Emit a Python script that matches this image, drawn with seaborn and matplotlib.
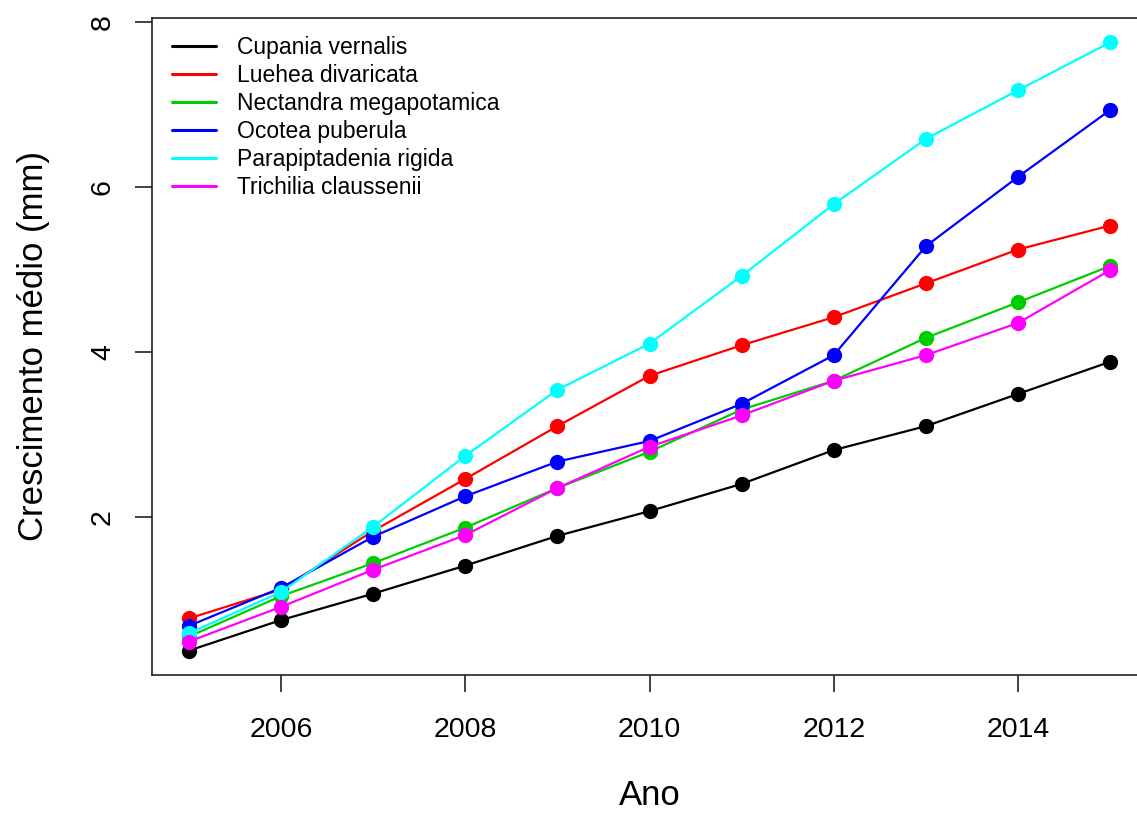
import pandas as pd
import matplotlib.pyplot as plt
import seaborn as sns
from matplotlib.lines import Line2D

years = [2005, 2006, 2007, 2008, 2009, 2010, 2011, 2012, 2013, 2014, 2015]
especies = ['Cupania vernalis', 'Luehea divaricata', 'Nectandra megapotamica',
            'Ocotea puberula', 'Parapiptadenia rigida', 'Trichilia claussenii']
cupania = [0.38, 0.75, 1.07, 1.41, 1.77, 2.07, 2.40, 2.81, 3.10, 3.49, 3.88]
luehea = [0.77, 1.12, 1.83, 2.46, 3.10, 3.71, 4.08, 4.42, 4.83, 5.24, 5.53]
nectandra = [0.55, 1.04, 1.44, 1.87, 2.35, 2.79, 3.30, 3.65, 4.17, 4.60, 5.04]
ocotea = [0.68, 1.14, 1.76, 2.25, 2.67, 2.92, 3.37, 3.96, 5.28, 6.12, 6.93]
parapiptadenia = [0.59, 1.09, 1.88, 2.74, 3.54, 4.10, 4.92, 5.79, 6.58, 7.17, 7.75]
trichilia = [0.49, 0.91, 1.36, 1.78, 2.35, 2.85, 3.23, 3.65, 3.96, 4.35, 4.99]
cores = ['#000000', '#FF0000', '#00CD00', '#0000FF', '#00FFFF', '#FF00FF']

df = pd.DataFrame({'Ano': years, especies[0]: cupania, especies[1]: luehea,
                   especies[2]: nectandra, especies[3]: ocotea,
                   especies[4]: parapiptadenia, especies[5]: trichilia})
df_long = df.melt(id_vars='Ano', var_name='Especie', value_name='Crescimento')

sns.set_style('white')
plt.rcParams['font.family'] = ['Liberation Sans', 'DejaVu Sans']
plt.rcParams['text.color'] = 'black'
plt.rcParams['axes.labelcolor'] = 'black'
plt.rcParams['xtick.color'] = 'black'
plt.rcParams['ytick.color'] = 'black'

fig = plt.figure(figsize=(11.37, 8.14), dpi=100)
ax = fig.add_axes([0.1337, 0.1708, 0.8751, 0.8071])

sns.lineplot(data=df_long, x='Ano', y='Crescimento', hue='Especie',
             hue_order=especies, palette=cores, marker='o', markersize=11,
             markeredgewidth=0, linewidth=1.6, legend=False, ax=ax)

ax.set_xlim(2004.6, 2015.4)
ax.set_ylim(0.085, 8.045)
ax.set_xticks([2006, 2008, 2010, 2012, 2014])
ax.set_yticks([2, 4, 6, 8])
ax.tick_params(axis='both', direction='out', length=12, width=1.2,
               color='#222222', labelsize=20.5, left=True, bottom=True)
ax.tick_params(axis='x', pad=18.5)
ax.tick_params(axis='y', pad=14, labelrotation=90)
for lab in ax.get_yticklabels():
    lab.set_va('center')
for s in ax.spines.values():
    s.set_color('#222222')
    s.set_linewidth(1.2)

ax.set_xlabel('Ano', fontsize=25)
ax.set_ylabel('Crescimento médio (mm)', fontsize=25)
ax.xaxis.set_label_coords(0.5, -0.158)
ax.yaxis.set_label_coords(-0.103, 0.5)

handles = [Line2D([], [], color=c, linewidth=2.2) for c in cores]
ax.legend(handles, especies, loc='upper left', bbox_to_anchor=(0.004, 0.9976),
          frameon=False, fontsize=16.5, handlelength=1.92, handletextpad=0.9,
          labelspacing=0.22, borderpad=0.2)

plt.savefig('out.png', dpi=100)
